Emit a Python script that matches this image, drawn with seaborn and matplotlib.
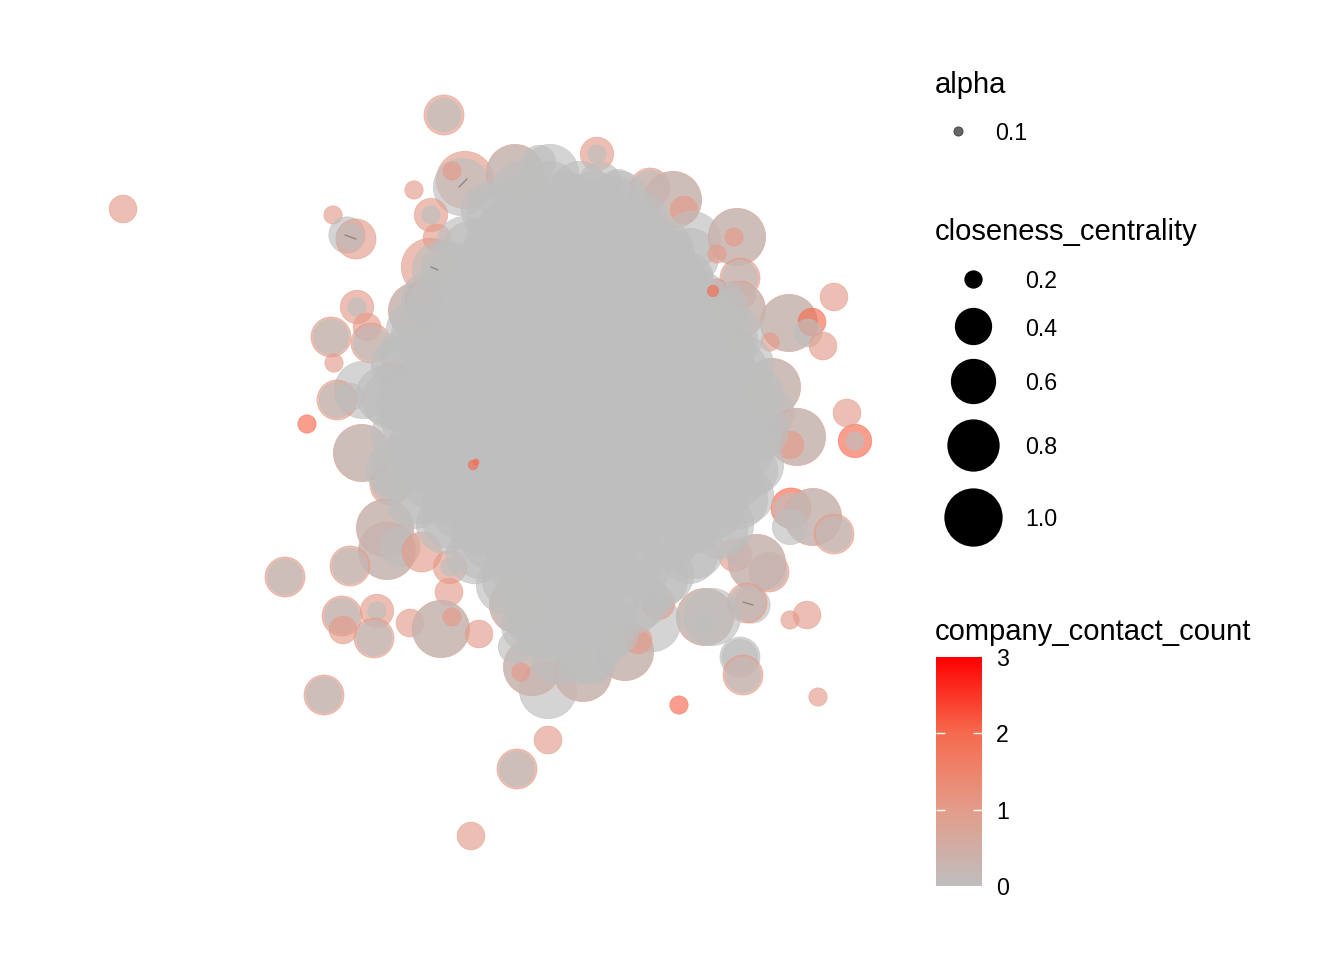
import numpy as np
import pandas as pd
import matplotlib.pyplot as plt
import seaborn as sns
from matplotlib.cm import ScalarMappable
from matplotlib.colors import LinearSegmentedColormap, Normalize

# --- data (layout coordinates, image scale) ---
node_x = [
    123, 444, 444, 465, 462, 452, 414, 431,
    431, 333, 347, 356, 350, 437, 430, 441,
    357, 357, 331, 331, 334, 367, 371, 371,
    417, 417, 425, 425, 423, 402, 363, 337,
    337, 350, 392, 307, 362, 362, 390, 390,
    385, 385, 387, 387, 400, 422, 285, 285,
    350, 350, 450, 450, 449, 342, 342, 343,
    377, 377, 374, 374, 410, 441, 441, 452,
    479, 324, 324, 548, 517, 517, 471, 548,
    532, 532, 521, 515, 518, 518, 855, 855,
    791, 791, 813, 813, 834, 834, 790, 769,
    769, 735, 735, 757, 757, 752, 747, 747,
    705, 705, 712, 704, 740, 740, 743, 743,
    790, 807, 818, 679, 652, 625, 625, 638,
    583, 583, 595, 577, 658, 658, 597, 597,
    600, 618, 650, 650, 673, 673, 684, 692,
    690, 737, 737, 734, 717, 740, 740, 742,
    737, 737, 717, 789, 789, 812, 808, 834,
    823, 770, 740, 740, 772, 772, 772, 797,
    797, 790, 847, 757, 515, 515, 539, 550,
]
node_y = [
    209, 115, 115, 180, 187, 171, 190, 215,
    215, 215, 235, 239, 237, 238, 267, 270,
    307, 307, 337, 337, 363, 327, 343, 343,
    311, 311, 300, 300, 313, 353, 390, 400,
    400, 397, 375, 424, 453, 453, 485, 485,
    528, 528, 551, 551, 547, 552, 577, 577,
    566, 566, 567, 567, 592, 616, 616, 630,
    611, 611, 638, 638, 623, 629, 629, 617,
    634, 695, 695, 740, 769, 769, 836, 690,
    667, 667, 672, 647, 605, 605, 441, 441,
    508, 511, 517, 517, 534, 534, 527, 572,
    572, 555, 555, 563, 563, 605, 603, 603,
    617, 617, 617, 622, 657, 657, 675, 675,
    620, 615, 697, 705, 623, 652, 652, 640,
    673, 673, 662, 632, 603, 603, 154, 154,
    185, 187, 188, 188, 200, 200, 210, 240,
    257, 237, 237, 237, 254, 278, 278, 295,
    310, 310, 288, 323, 323, 322, 333, 297,
    346, 342, 344, 344, 387, 387, 413, 437,
    437, 445, 413, 393, 173, 173, 162, 173,
]
node_closeness = [
    .30, .47, .36, .97, .97, .20, .20, .36,
    .20, .20, .39, .47, .30, .30, .97, .97,
    .36, .20, .47, .38, .20, .30, .47, .38,
    .97, .93, .47, .38, .30, .60, .97, .47,
    .38, .30, .30, .20, .97, .93, .47, .38,
    .97, .93, .97, .93, .47, .47, .47, .38,
    .47, .38, .36, .20, .30, .47, .38, .30,
    .36, .20, .47, .38, .30, .97, .93, .20,
    .30, .47, .38, .30, .47, .38, .30, .97,
    .97, .93, .20, .36, .97, .93, .36, .20,
    .47, .38, .97, .93, .47, .38, .38, .47,
    .38, .36, .20, .97, .93, .39, .47, .38,
    .97, .93, .97, .20, .47, .38, .47, .38,
    .20, .30, .20, .20, .97, .97, .93, .30,
    .97, .93, .47, .38, .36, .30, .36, .20,
    .60, .38, .47, .38, .97, .93, .30, .97,
    .97, .97, .93, .20, .20, .47, .38, .30,
    .97, .93, .20, .97, .93, .30, .30, .30,
    .30, .20, .30, .20, .97, .93, .60, .97,
    .93, .30, .30, .38, .97, .93, .36, .97,
]
node_contacts = [
    1, 1, 0, 1, 0, 1, 1, 1,
    0, 1, 0, 1, 0, 1, 1, 0,
    1, 0, 1, 0, 1, 1, 1, 0,
    1, 0, 1, 0, 1, 0, 0, 1,
    0, 0, 1, 2, 1, 0, 1, 0,
    1, 0, 1, 0, 0, 1, 1, 0,
    1, 0, 1, 0, 1, 1, 0, 1,
    1, 0, 1, 0, 1, 1, 0, 1,
    1, 1, 0, 1, 1, 0, 1, 0,
    1, 0, 1, 0, 1, 0, 2, 0,
    2, 0, 1, 0, 1, 0, 0, 1,
    0, 1, 0, 1, 0, 0, 1, 0,
    1, 0, 0, 0, 0, 0, 1, 0,
    1, 1, 1, 2, 0, 1, 0, 1,
    1, 0, 0, 0, 1, 0, 1, 0,
    0, 0, 1, 0, 1, 0, 1, 0,
    0, 1, 0, 1, 1, 1, 0, 1,
    1, 0, 2, 1, 0, 2, 0, 1,
    1, 1, 1, 0, 1, 0, 0, 1,
    0, 1, 1, 0, 1, 0, 0, 0,
]

# the dense middle of the network, one line per band of the blob
core_x = [
    520, 550, 580,
    510, 540, 570, 600,
    495, 525, 555, 585, 615, 640,
    475, 505, 535, 565, 595, 625, 650, 670,
    460, 490, 520, 550, 580, 610, 640, 670, 700,
    450, 480, 510, 540, 570, 600, 630, 660, 690, 710,
    435, 465, 495, 525, 555, 585, 615, 645, 675, 705, 725,
    420, 450, 480, 510, 540, 570, 600, 630, 660, 690, 720, 735,
    410, 440, 470, 500, 530, 560, 590, 620, 650, 680, 710, 745,
    415, 445, 475, 505, 535, 565, 595, 625, 655, 685, 715, 745,
    430, 460, 490, 520, 550, 580, 610, 640, 670, 700, 735,
    460, 490, 520, 550, 580, 610, 640, 670, 700, 715,
    490, 520, 550, 580, 610, 640, 670,
    520, 550, 580, 610, 640,
    535, 565, 595, 610,
    545, 570, 595,
    560, 585,
    # second pass, between the first one
    525, 565, 595,
    510, 540, 570, 600, 630,
    490, 520, 550, 580, 610, 640, 665,
    475, 505, 535, 565, 595, 625, 655, 685,
    465, 495, 525, 555, 585, 615, 645, 675, 705,
    450, 480, 510, 540, 570, 600, 630, 660, 690, 720,
    428, 465, 495, 525, 555, 585, 615, 645, 675, 705, 730,
    405, 435, 465, 495, 525, 555, 585, 615, 645, 675, 705, 740,
    400, 430, 460, 490, 520, 550, 580, 610, 640, 670, 700, 730, 752,
    425, 455, 485, 515, 545, 575, 605, 635, 665, 695, 725,
    450, 480, 510, 540, 570, 600, 630, 660, 690, 720,
    480, 510, 540, 570, 600, 630, 660, 690,
    515, 545, 575, 605, 635,
    535, 565, 595,
    550, 580,
    # third pass, the rim of the blob
    415, 420, 430, 436, 450, 456, 465, 471, 400, 405, 385, 391,
    395, 401, 415, 421, 445, 451, 475, 481, 505, 511, 530, 536,
    720, 714, 735, 729, 745, 739, 755, 749, 760, 754, 755, 749,
    745, 739, 725, 719, 695, 689, 665, 659, 640, 634, 610, 604,
    590, 584, 685, 679, 665, 659, 640, 634, 620, 614, 490, 496,
]
core_y = [
    190, 190, 190,
    210, 210, 210, 210,
    240, 240, 240, 240, 240, 240,
    270, 270, 270, 270, 270, 270, 270, 270,
    300, 300, 300, 300, 300, 300, 300, 300, 300,
    330, 330, 330, 330, 330, 330, 330, 330, 330, 330,
    360, 360, 360, 360, 360, 360, 360, 360, 360, 360, 360,
    390, 390, 390, 390, 390, 390, 390, 390, 390, 390, 390, 390,
    420, 420, 420, 420, 420, 420, 420, 420, 420, 420, 420, 420,
    450, 450, 450, 450, 450, 450, 450, 450, 450, 450, 450, 450,
    480, 480, 480, 480, 480, 480, 480, 480, 480, 480, 480,
    510, 510, 510, 510, 510, 510, 510, 510, 510, 510,
    540, 540, 540, 540, 540, 540, 540,
    570, 570, 570, 570, 570,
    600, 600, 600, 600,
    630, 630, 630,
    655, 655,
    # second pass
    200, 200, 200,
    225, 225, 225, 225, 225,
    255, 255, 255, 255, 255, 255, 255,
    285, 285, 285, 285, 285, 285, 285, 285,
    315, 315, 315, 315, 315, 315, 315, 315, 315,
    345, 345, 345, 345, 345, 345, 345, 345, 345, 345,
    375, 375, 375, 375, 375, 375, 375, 375, 375, 375, 375,
    405, 405, 405, 405, 405, 405, 405, 405, 405, 405, 405, 405,
    435, 435, 435, 435, 435, 435, 435, 435, 435, 435, 435, 435, 435,
    465, 465, 465, 465, 465, 465, 465, 465, 465, 465, 465,
    495, 495, 495, 495, 495, 495, 495, 495, 495, 495,
    525, 525, 525, 525, 525, 525, 525, 525,
    555, 555, 555, 555, 555,
    585, 585, 585,
    615, 615,
    # third pass
    330, 335, 300, 305, 270, 275, 245, 250, 365, 370, 395, 400,
    470, 465, 500, 495, 525, 520, 555, 550, 585, 580, 625, 620,
    310, 315, 335, 340, 365, 370, 395, 400, 430, 435, 465, 470,
    495, 500, 525, 530, 550, 555, 575, 580, 600, 605, 630, 635,
    655, 650, 280, 285, 250, 255, 220, 225, 200, 205, 210, 215,
]
core_closeness = [.97] * len(core_x)
core_contacts = [0] * len(core_x)

# small strongly coloured nodes that sit on top of the blob
top_x = [473, 476, 713]
top_y = [465, 462, 291]
top_closeness = [.10, .06, .12]
top_contacts = [2, 2, 2]

# short dark links still visible between nodes
link_x = [[459, 467], [345, 356], [743, 753], [431, 438]]
link_y = [[187, 179], [235, 239], [602, 605], [267, 270]]

legend_closeness = [0.2, 0.4, 0.6, 0.8, 1.0]
legend_closeness_y = [279, 326, 381, 445, 517]
legend_contacts = [0, 1, 2, 3]

# closeness_centrality -> dot diameter in pixels, as in the size legend
size_values = [0.05, 0.2, 0.4, 0.6, 0.8, 1.0]
size_pixels = [6, 19, 38, 46, 53, 59]


def area(value):
    d = np.interp(value, size_values, size_pixels) - 0.7
    return (d * 0.72) ** 2


df = pd.DataFrame({
    'x': node_x + core_x + top_x,
    'y': node_y + core_y + top_y,
    'closeness_centrality': node_closeness + core_closeness + top_closeness,
    'company_contact_count': node_contacts + core_contacts + top_contacts,
})

cores = LinearSegmentedColormap.from_list('contacts', [
    (0.0, '#bebebe'), (1 / 3, '#e49c8a'), (2 / 3, '#f66b4e'), (1.0, '#ff0000')
])

sns.set_theme(style='white')
plt.rcParams['font.family'] = ['Liberation Sans', 'DejaVu Sans']

fig = plt.figure(figsize=(13.44, 9.6), dpi=100)
ax = fig.add_axes([0, 0, 1, 1])

sns.scatterplot(
    data=df, x='x', y='y', ax=ax,
    hue='company_contact_count', palette=cores, hue_norm=(0, 3),
    size='closeness_centrality',
    sizes={v: area(v) for v in df['closeness_centrality'].unique()},
    alpha=0.65, edgecolor='face', linewidth=0.5, legend=False,
)
for lx, ly in zip(link_x, link_y):
    ax.plot(lx, ly, color='#8f8686', lw=1, zorder=5)

ax.set_xlim(0, 1344)
ax.set_ylim(960, 0)
ax.axis('off')

# --- legends ---
ax.text(935, 85, 'alpha', fontsize=21, va='center', color='black')
ax.scatter([958], [131], s=(9 * 0.72) ** 2, color='#666666',
           edgecolor='#444444', linewidth=0.7)
ax.text(995, 134, '0.1', fontsize=16.7, va='center', color='black')

ax.text(935, 232, 'closeness_centrality', fontsize=21, va='center', color='black')
for value, ypos in zip(legend_closeness, legend_closeness_y):
    ax.scatter([973], [ypos], s=area(value), color='black', linewidth=0)
    ax.text(1025, ypos + 3, f'{value:.1f}', fontsize=16.7, va='center', color='black')

ax.text(935, 632, 'company_contact_count', fontsize=21, va='center', color='black')
cax = fig.add_axes([936 / 1344, 1 - 886 / 960, 46 / 1344, 229 / 960])
cb = fig.colorbar(ScalarMappable(Normalize(0, 3), cores), cax=cax, ticks=legend_contacts)
cb.outline.set_visible(False)
cax.tick_params(length=0, pad=10, labelsize=16.7, labelcolor='black')
cax.hlines([1, 2], 0, 0.2, color='white', lw=1, transform=cax.get_yaxis_transform())
cax.hlines([1, 2], 0.8, 1, color='white', lw=1, transform=cax.get_yaxis_transform())

plt.savefig('out.png', dpi=100)
